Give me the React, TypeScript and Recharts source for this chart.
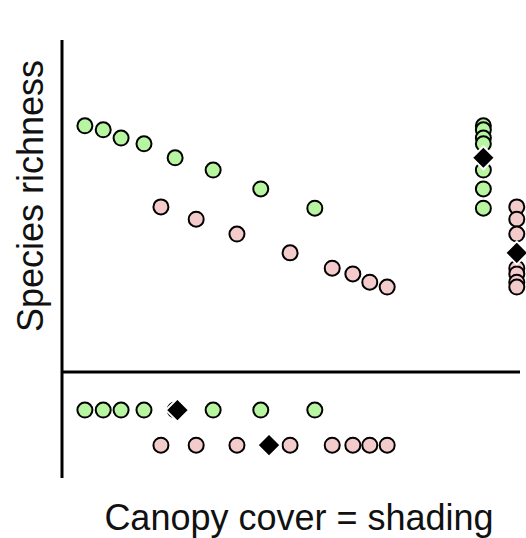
import React from 'react';
import { ScatterChart, Scatter, XAxis, YAxis, ReferenceLine } from 'recharts';

// Canopy cover (x) and species richness (y) for the two groups
const greenCover = [5.0, 9.0, 12.9, 17.9, 24.7, 33.0, 43.4, 55.2];
const greenRichness = [80.4, 79.5, 77.6, 76.3, 73.1, 70.3, 66.0, 61.6];
const pinkCover = [21.6, 29.3, 38.2, 49.8, 59.0, 63.5, 67.2, 71.0];
const pinkRichness = [61.9, 59.1, 55.7, 51.4, 47.9, 46.6, 44.7, 43.6];
// group summaries (green, pink)
const meanCover = [25.2, 45.2];
const meanRichness = [73.1, 51.4];
// strip plot levels
const dividerRichness = 24.2;
const stripRichness = [15.5, 7.5]; // green, pink rows below divider
const stripCover = [92.0, 99.3]; // green, pink columns at right

const GREEN = '#b8f5a0';
const PINK = '#f3cbcb';

const zip = (xs: number[], ys: number[]) => xs.map((x, i) => ({ x, y: ys[i] }));

const greenMain = zip(greenCover, greenRichness);
const pinkMain = zip(pinkCover, pinkRichness);
const greenRow = greenCover.map((x) => ({ x, y: stripRichness[0] }));
const pinkRow = pinkCover.map((x) => ({ x, y: stripRichness[1] }));
const greenCol = greenRichness.map((y) => ({ x: stripCover[0], y }));
const pinkCol = pinkRichness.map((y) => ({ x: stripCover[1], y }));
const diamonds = [
  { x: meanCover[0], y: stripRichness[0] },
  { x: meanCover[1], y: stripRichness[1] },
  { x: stripCover[0], y: meanRichness[0] },
  { x: stripCover[1], y: meanRichness[1] },
];

const circle = (fill: string) => (props: any) => (
  <circle cx={props.cx} cy={props.cy} r={7.5} fill={fill} stroke="#000" strokeWidth={2} />
);

const diamond = (props: any) => {
  const { cx, cy } = props;
  const h = 11.5;
  return (
    <path
      d={`M${cx},${cy - h} L${cx + h},${cy} L${cx},${cy + h} L${cx - h},${cy} Z`}
      fill="#000"
      stroke="#fff"
      strokeWidth={2}
    />
  );
};

export default function App() {
  return (
    <div style={{ position: 'absolute', left: 0, top: 0, width: 526, height: 538 }}>
      <ScatterChart width={526} height={538} margin={{ top: 40, right: 6, bottom: 60, left: 62 }}>
        <XAxis type="number" dataKey="x" domain={[0, 100]} hide />
        <YAxis type="number" dataKey="y" domain={[0, 100]} hide width={0} />
        <ReferenceLine x={0} stroke="#000" strokeWidth={3} />
        <ReferenceLine y={dividerRichness} stroke="#000" strokeWidth={3} />
        <Scatter data={greenMain} shape={circle(GREEN)} isAnimationActive={false} />
        <Scatter data={pinkMain} shape={circle(PINK)} isAnimationActive={false} />
        <Scatter data={greenRow} shape={circle(GREEN)} isAnimationActive={false} />
        <Scatter data={pinkRow} shape={circle(PINK)} isAnimationActive={false} />
        <Scatter data={greenCol} shape={circle(GREEN)} isAnimationActive={false} />
        <Scatter data={pinkCol} shape={circle(PINK)} isAnimationActive={false} />
        <Scatter data={diamonds} shape={diamond} isAnimationActive={false} />
      </ScatterChart>
      <svg
        width={526}
        height={538}
        style={{ position: 'absolute', left: 0, top: 0, pointerEvents: 'none' }}
      >
        <text
          x={299}
          y={530}
          textAnchor="middle"
          fontFamily="'Liberation Sans', Arial, sans-serif"
          fontSize={36}
          fill="#111"
        >
          Canopy cover = shading
        </text>
        <text
          x={43}
          y={196}
          textAnchor="middle"
          transform="rotate(-90 43 196)"
          fontFamily="'Liberation Sans', Arial, sans-serif"
          fontSize={36}
          fill="#111"
        >
          Species richness
        </text>
      </svg>
    </div>
  );
}
